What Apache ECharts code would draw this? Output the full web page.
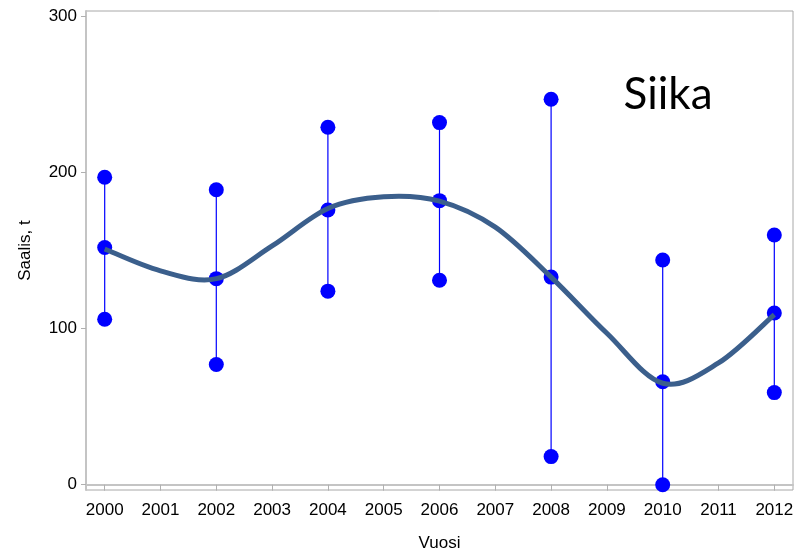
<!DOCTYPE html>
<html>
<head>
<meta charset="utf-8">
<script src="https://cdn.jsdelivr.net/npm/echarts@6/dist/echarts.min.js"></script>
<style>html,body{margin:0;padding:0;background:#fff;overflow:hidden}#c{width:811px;height:557px}</style>
</head>
<body>
<div id="c"></div>
<script>
const years = [2000, 2002, 2004, 2006, 2008, 2010, 2012];
const meanVals = [152, 132, 176, 182, 133, 66, 110];
const lowerVals = [106, 77, 124, 131, 18, 0, 59];
const upperVals = [197, 189, 229, 232, 247, 144, 160];
const curveYears = [2000, 2001, 2002, 2003, 2004, 2005, 2006, 2007, 2008, 2009, 2010, 2011, 2012];
const curveVals = [151, 137, 132, 153, 177, 184.5, 181.7, 165, 133, 97, 65, 78, 109];
const xTickLabels = [2000, 2001, 2002, 2003, 2004, 2005, 2006, 2007, 2008, 2009, 2010, 2011, 2012];
const yTickLabels = [0, 100, 200, 300];

const chart = echarts.init(document.getElementById('c'), null, {renderer: 'canvas', width: 811, height: 557});
const labelFont = {fontFamily: '"Liberation Sans", Arial, sans-serif', fontSize: 17, color: '#000'};

const barData = years.map((y, i) => [y, lowerVals[i], upperVals[i]]);
const pointData = [];
years.forEach((y, i) => {
  pointData.push([y, lowerVals[i]]);
  pointData.push([y, meanVals[i]]);
  pointData.push([y, upperVals[i]]);
});
const curveData = curveYears.map((y, i) => [y, curveVals[i]]);

chart.setOption({
  animation: false,
  backgroundColor: '#fff',
  grid: {left: 86, right: 18, top: 11, height: 484, show: true, borderColor: '#a8a8a8', borderWidth: 1},
  xAxis: {
    type: 'value', min: 1999.665, max: 2012.335,
    name: 'Vuosi', nameLocation: 'middle', nameGap: 45,
    nameTextStyle: labelFont,
    axisLine: {show: true, lineStyle: {color: '#c4c4c4', width: 2}},
    axisTick: {show: true, length: 6, customValues: xTickLabels, lineStyle: {color: '#b0b0b0'}},
    axisLabel: Object.assign({margin: 12, customValues: xTickLabels, formatter: v => String(Math.round(v))}, labelFont),
    splitLine: {show: false}
  },
  yAxis: {
    type: 'value', min: -3.4, max: 303.5,
    name: 'Saalis, t', nameLocation: 'middle', nameGap: 52,
    nameTextStyle: labelFont,
    axisLine: {show: true, lineStyle: {color: '#c4c4c4', width: 2}},
    axisTick: {show: true, length: 5, customValues: yTickLabels, lineStyle: {color: '#b0b0b0'}},
    axisLabel: Object.assign({margin: 9, customValues: yTickLabels, formatter: v => String(Math.round(v))}, labelFont),
    splitLine: {show: false}
  },
  graphic: [{
    type: 'text', x: 668, y: 95, z: 100,
    style: {text: 'Siika', fill: '#000', font: '44px Lato, "Open Sans", sans-serif', align: 'center', verticalAlign: 'middle'}
  }],
  series: [
    {
      type: 'custom', z: 2, data: barData,
      renderItem: function (params, api) {
        const x = api.value(0), lo = api.value(1), hi = api.value(2);
        const p1 = api.coord([x, lo]), p2 = api.coord([x, hi]);
        return {type: 'line', shape: {x1: p1[0], y1: p1[1], x2: p2[0], y2: p2[1]}, style: {stroke: '#0000ff', lineWidth: 1.2}};
      }
    },
    {
      type: 'scatter', z: 3, data: pointData, symbol: 'circle', symbolSize: 15,
      itemStyle: {color: '#0000ff', opacity: 1}
    },
    {
      type: 'custom', z: 4, data: curveData,
      renderItem: function (params, api) {
        if (params.dataIndex !== 0) return null;
        const pts = curveData.map(d => api.coord(d));
        let path = 'M' + pts[0][0] + ' ' + pts[0][1];
        for (let i = 0; i < pts.length - 1; i++) {
          const p0 = pts[Math.max(i - 1, 0)], p1 = pts[i], p2 = pts[i + 1], p3 = pts[Math.min(i + 2, pts.length - 1)];
          const c1x = p1[0] + (p2[0] - p0[0]) / 6, c1y = p1[1] + (p2[1] - p0[1]) / 6;
          const c2x = p2[0] - (p3[0] - p1[0]) / 6, c2y = p2[1] - (p3[1] - p1[1]) / 6;
          path += ' C' + c1x + ' ' + c1y + ' ' + c2x + ' ' + c2y + ' ' + p2[0] + ' ' + p2[1];
        }
        return {type: 'path', shape: {pathData: path}, style: {fill: null, stroke: '#3b5f8c', lineWidth: 5, lineCap: 'butt', lineJoin: 'round'}};
      }
    }
  ]
});
</script>
</body>
</html>
